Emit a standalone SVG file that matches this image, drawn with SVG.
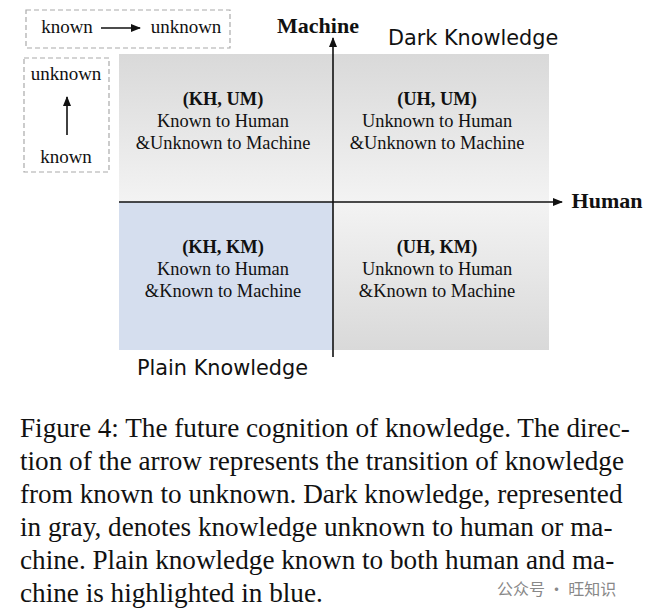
<svg xmlns="http://www.w3.org/2000/svg" width="647" height="615" viewBox="0 0 647 615">
<style>
.s{font-family:"Liberation Serif",serif;font-size:18.4px;fill:#111;text-anchor:middle}
.b{font-weight:bold}
.L{font-size:19px}
.H{font-size:22px}
.k{font-family:"DejaVu Sans",sans-serif;font-size:20.8px;fill:#111}
.c{font-family:"Liberation Serif",serif;font-size:27.2px;fill:#111}
.d{fill:none;stroke:#aaa;stroke-width:1.2;stroke-dasharray:5,3}
.ax{stroke:#111;stroke-width:1.6;fill:none}
</style>
<defs>
<linearGradient id="g" x1="0" y1="0" x2="0" y2="1"><stop offset="0" stop-color="#d9d9d9"/><stop offset="1" stop-color="#f3f3f3"/></linearGradient>
<linearGradient id="g2" x1="0" y1="0" x2="0" y2="1"><stop offset="0" stop-color="#f3f3f3"/><stop offset="1" stop-color="#d9d9d9"/></linearGradient>
<marker id="a" markerWidth="10" markerHeight="8" refX="9" refY="4" orient="auto" markerUnits="userSpaceOnUse"><path d="M0,0 L10,4 L0,8 Z" fill="#111"/></marker>
</defs>
<g id="legend1"><rect class="d" x="26" y="10" width="204" height="38"/><text class="s L" x="67" y="33">known</text><text class="s L" x="186" y="33">unknown</text><line class="ax" x1="101" y1="28" x2="140" y2="28" marker-end="url(#a)"/></g>
<g id="legend2"><rect class="d" x="24" y="58" width="85" height="114"/><text class="s L" x="66" y="80">unknown</text><text class="s L" x="66" y="163">known</text><line class="ax" x1="67" y1="135" x2="67" y2="97" marker-end="url(#a)"/></g>
<g id="q-khum"><rect x="119" y="54" width="214" height="148" fill="url(#g)"/><text class="s b" x="223" y="105">(KH, UM)</text><text class="s" x="223" y="127">Known to Human</text><text class="s" x="223" y="149">&amp;Unknown to Machine</text></g>
<g id="q-uhum"><rect x="333" y="54" width="216" height="148" fill="url(#g)"/><text class="s b" x="437" y="105">(UH, UM)</text><text class="s" x="437" y="127">Unknown to Human</text><text class="s" x="437" y="149">&amp;Unknown to Machine</text></g>
<g id="q-khkm"><rect x="119" y="202" width="214" height="148" fill="#d5deee"/><text class="s b" x="223" y="253">(KH, KM)</text><text class="s" x="223" y="275">Known to Human</text><text class="s" x="223" y="297">&amp;Known to Machine</text></g>
<g id="q-uhkm"><rect x="333" y="202" width="216" height="148" fill="url(#g2)"/><text class="s b" x="437" y="253">(UH, KM)</text><text class="s" x="437" y="275">Unknown to Human</text><text class="s" x="437" y="297">&amp;Known to Machine</text></g>
<g id="connectors"><line class="ax" x1="333" y1="357" x2="333" y2="38" marker-end="url(#a)"/><line class="ax" x1="119" y1="202" x2="562" y2="202" marker-end="url(#a)"/></g>
<g id="labels"><text class="s b H" x="318" y="33">Machine</text><text class="s b H" x="607" y="208">Human</text><text class="k" x="388" y="45">Dark Knowledge</text><text class="k" x="137" y="375">Plain Knowledge</text></g>
<g id="caption">
<text class="c" x="20" y="437">Figure 4: The future cognition of knowledge. The direc-</text>
<text class="c" x="20" y="470">tion of the arrow represents the transition of knowledge</text>
<text class="c" x="20" y="503">from known to unknown. Dark knowledge, represented</text>
<text class="c" x="20" y="536">in gray, denotes knowledge unknown to human or ma-</text>
<text class="c" x="20" y="569">chine. Plain knowledge known to both human and ma-</text>
<text class="c" x="20" y="602">chine is highlighted in blue.</text>
<text x="497" y="595" font-family="Noto Sans CJK SC,sans-serif" font-size="16" fill="#888">公众号 · 旺知识</text>
</g>
</svg>
